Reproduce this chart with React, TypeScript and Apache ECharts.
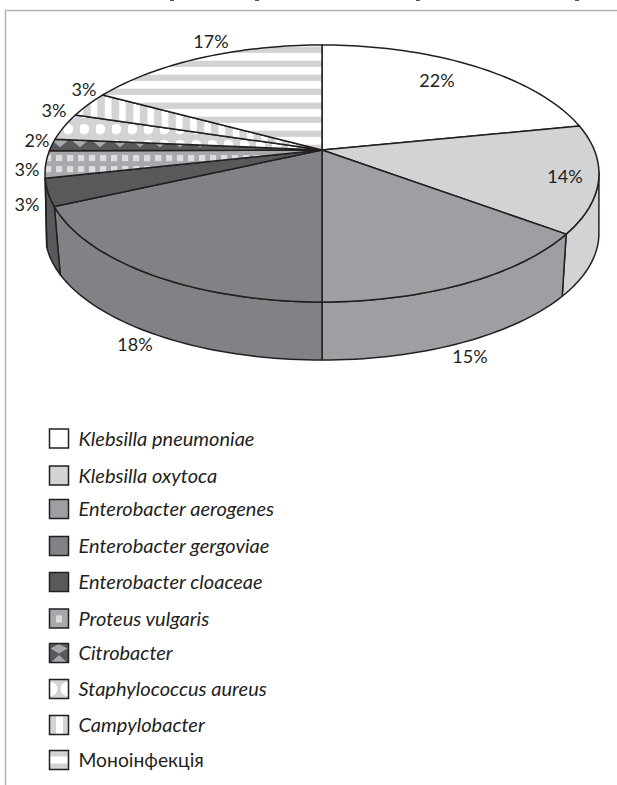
import React, { useEffect, useRef } from "react";
import * as echarts from "echarts";

const categories = [
  "Klebsilla pneumoniae", "Klebsilla oxytoca", "Enterobacter aerogenes", "Enterobacter gergoviae",
  "Enterobacter cloaceae", "Proteus vulgaris", "Citrobacter", "Staphylococcus aureus", "Campylobacter", "Моноінфекція",
];
const seriesValues = [21.8, 13.5, 14.7, 18.1, 3.4, 3.4, 1.5, 3.4, 3.2, 17.0];

const INK = "#231f20";
const LIGHT = "#d1d3d4";
const MID = "#a7a9ac";

const svgTile = (w: number, h: number, body: string) =>
  ({
    image: "data:image/svg+xml;utf8," + encodeURIComponent(
      `<svg xmlns="http://www.w3.org/2000/svg" width="${w}" height="${h}" viewBox="0 0 ${w} ${h}">${body}</svg>`),
    repeat: "repeat",
    imageWidth: w,
    imageHeight: h,
  }) as any;

const proteusFill = svgTile(11, 11, `<rect width="11" height="11" fill="${MID}"/><rect x="1" y="1" width="6.2" height="6.2" fill="#dcddde"/>`);
const citroFill = svgTile(20, 20,
  `<rect width="20" height="20" fill="#58595b"/>` +
  [[0, 0], [20, 0], [0, 20], [20, 20]].map(([x, y]) =>
    `<polygon points="${x - 8.7},${y} ${x},${y - 7.3} ${x + 8.7},${y} ${x},${y + 7.3}" fill="${MID}"/>`).join(""));
const staphFill = svgTile(16, 16,
  `<rect width="16" height="16" fill="${LIGHT}"/>` +
  [1, 17].map((y) => `<circle cx="4" cy="${y}" r="5.3" fill="#fff"/>`).join(""));
const campyFill = svgTile(14.2, 14.2, `<rect width="14.2" height="14.2" fill="${LIGHT}"/><rect x="5.5" width="6.6" height="14.2" fill="#fff"/>`);
const monoFill = svgTile(14, 14, `<rect width="14" height="14" fill="#fff"/><rect y="4.7" width="14" height="6.2" fill="${LIGHT}"/>`);

const sliceFills: any[] = ["#ffffff", LIGHT, "#9d9fa2", "#808285", "#58595b", proteusFill, citroFill, staphFill, campyFill, monoFill];

// Perspective disc: centre x, apex y, horizontal scale, vertical scale, tilt, rim skew in degrees
const TOP = { cx: 322, ay: 150, a: 272.3, b: 124.2, k: 0.1829, skew: 0 };
const BASE = { cx: 322, ay: 216.6, a: 274.6, b: 124.8, k: 0.13, skew: 1.2 };
const WALL_FROM = 100;
const WALL_TO = 257.5;

const rim = (d: typeof TOP, deg: number): number[] => {
  const base = (deg * Math.PI) / 180;
  const t = ((deg - d.skew * Math.abs(Math.sin(base))) * Math.PI) / 180;
  const w = 1 + d.k * Math.cos(t);
  return [d.cx + (d.a * Math.sin(t)) / w, d.ay - (d.b * Math.cos(t)) / w];
};
const arc = (d: typeof TOP, from: number, to: number): number[][] => {
  const n = Math.max(2, Math.ceil(Math.abs(to - from) / 1.5));
  const out: number[][] = [];
  for (let i = 0; i <= n; i++) out.push(rim(d, from + ((to - from) * i) / n));
  return out;
};

const labelSpots = [
  [437, 79.5], [565, 176], [470, 356], [135, 344], [27, 204],
  [27, 169], [37, 140], [54, 110], [84, 89], [211, 41],
];
const legendRows = [438.5, 475.5, 509, 546, 582, 618.5, 653, 689, 725, 760];
const total = seriesValues.reduce((a, b) => a + b, 0);

const renderItem = (params: any, api: any) => {
  const i = params.dataIndex;
  const before = seriesValues.slice(0, i).reduce((a, b) => a + b, 0);
  const v = api.value(0);
  const a0 = (before / total) * 360;
  const a1 = ((before + v) / total) * 360;
  const fill = sliceFills[i];
  const strokeStyle = { stroke: INK, lineWidth: 1.5, lineJoin: "round" };
  const children: any[] = [];
  const w0 = Math.max(a0, WALL_FROM);
  const w1 = Math.min(a1, WALL_TO);
  if (w1 > w0 + 0.01) {
    children.push({
      type: "polygon",
      shape: { points: [...arc(TOP, w0, w1), ...arc(BASE, w1, w0)] },
      style: { fill, ...strokeStyle },
    });
  }
  children.push({
    type: "polygon",
    shape: { points: [[TOP.cx, TOP.ay], ...arc(TOP, a0, a1)] },
    style: { fill, ...strokeStyle },
  });
  children.push({
    type: "text",
    z2: 20,
    style: {
      text: Math.round(v) + "%",
      x: labelSpots[i][0],
      y: labelSpots[i][1],
      fill: INK,
      font: "18px Lato",
      align: "center",
      verticalAlign: "middle",
    },
  });
  return { type: "group", children };
};

const swatchExtras = (i: number, y0: number): any[] => {
  const x0 = 49.5;
  const s = 19;
  const r = (x: number, y: number, w: number, h: number, fill: string) => ({ type: "rect", shape: { x, y, width: w, height: h }, style: { fill } });
  if (i === 5) return [r(x0 + 6.5, y0 + 6.5, 6, 7, "#dcddde")];
  if (i === 6)
    return [
      { type: "polygon", shape: { points: [[x0 + 1, y0 + 5], [x0 + 9.5, y0 + 0.5], [x0 + 18, y0 + 5], [x0 + 9.5, y0 + 10]] }, style: { fill: MID } },
      { type: "polygon", shape: { points: [[x0 + 2, y0 + 18.5], [x0 + 9.5, y0 + 11.5], [x0 + 17, y0 + 18.5]] }, style: { fill: MID } },
    ];
  if (i === 7)
    return [
      { type: "circle", shape: { cx: x0 + 1, cy: y0 + 9.5, r: 7 }, style: { fill: "#fff" } },
      { type: "circle", shape: { cx: x0 + s - 1, cy: y0 + 9.5, r: 7 }, style: { fill: "#fff" } },
    ];
  if (i === 8) return [r(x0 + 6.5, y0, 7, s, "#fff")];
  if (i === 9) return [r(x0, y0 + 6, s, 7, "#fff")];
  return [];
};
const swatchBase = ["#ffffff", LIGHT, "#9d9fa2", "#808285", "#58595b", MID, "#58595b", LIGHT, LIGHT, LIGHT];

const legendGraphics = (): any[] => {
  const out: any[] = [];
  categories.forEach((name, i) => {
    const y0 = legendRows[i] - 9.5;
    out.push({ type: "rect", shape: { x: 49.5, y: y0, width: 19, height: 19 }, style: { fill: swatchBase[i] } });
    out.push(...swatchExtras(i, y0));
    out.push({ type: "rect", shape: { x: 49.5, y: y0, width: 19, height: 19 }, style: { fill: "none", stroke: INK, lineWidth: 1.5 } });
    out.push({
      type: "text",
      style: {
        text: name,
        x: 78.5,
        y: legendRows[i] - 1,
        fill: INK,
        font: i === 9 ? "normal 19.3px Lato" : "italic 20px Lato",
        align: "left",
        verticalAlign: "middle",
      },
    });
  });
  return out;
};

export default function App() {
  const ref = useRef<HTMLDivElement>(null);
  useEffect(() => {
    const chart = echarts.init(ref.current!, undefined, { renderer: "svg" });
    chart.setOption({
      animation: false,
      backgroundColor: "#ffffff",
      series: [
        {
          type: "custom",
          coordinateSystem: "none",
          renderItem,
          silent: true,
          clip: false,
          data: categories.map((name, i) => ({ name, value: [seriesValues[i]] })),
        },
      ],
      graphic: [
        { type: "line", shape: { x1: 5, y1: 10.5, x2: 617, y2: 10.5 }, style: { stroke: "#b3b3b3", lineWidth: 1.5 } },
        { type: "line", shape: { x1: 5.5, y1: 10, x2: 5.5, y2: 785 }, style: { stroke: "#b3b3b3", lineWidth: 1.5 } },
        ...[172, 257, 418, 577].map((x) => ({ type: "rect", shape: { x: x - 2, y: 0, width: 4, height: 1 }, style: { fill: "#555" } })),
        ...legendGraphics(),
      ],
    });
    return () => chart.dispose();
  }, []);
  return <div ref={ref} style={{ position: "absolute", left: 0, top: 0, width: 617, height: 785 }} />;
}
